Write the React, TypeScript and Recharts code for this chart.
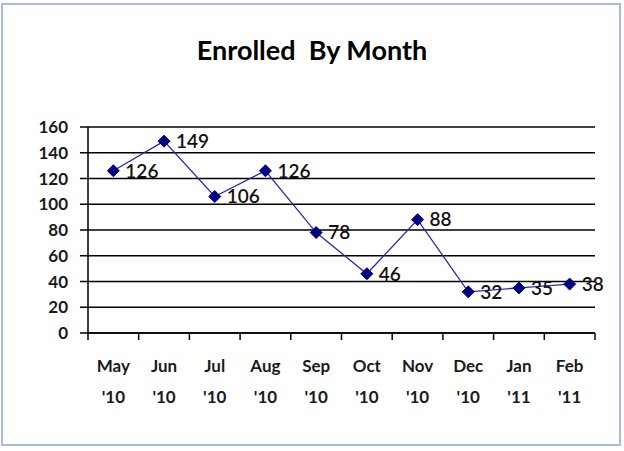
import React from "react";
import { LineChart, Line, XAxis, YAxis, CartesianGrid, LabelList } from "recharts";

const months = ["May", "Jun", "Jul", "Aug", "Sep", "Oct", "Nov", "Dec", "Jan", "Feb"];
const years = ["'10", "'10", "'10", "'10", "'10", "'10", "'10", "'10", "'11", "'11"];
const enrolled = [126, 149, 106, 126, 78, 46, 88, 32, 35, 38];
const yTicks = [0, 20, 40, 60, 80, 100, 120, 140, 160];

const data = months.map((m, i) => ({ key: `${m} ${years[i]}`, month: m, year: years[i], value: enrolled[i] }));

const W = 624;
const H = 451;
const LEFT = 88;
const RIGHT = 29;
const TOP = 127;
const XH = 118;
const FONT = "Lato, 'Open Sans', sans-serif";
const BAND = (W - LEFT - RIGHT) / months.length;

const XTick = (props: any) => {
  const { x, y, index } = props;
  const d = data[index] ?? data[0];
  const half = BAND / 2;
  return (
    <g>
      <line x1={x - half} x2={x - half} y1={y - 8} y2={y - 1} stroke="#000" strokeWidth={1.5} />
      {index === months.length - 1 && (
        <line x1={x + half} x2={x + half} y1={y - 8} y2={y - 1} stroke="#000" strokeWidth={1.5} />
      )}
      <text x={x} y={y + 31} textAnchor="middle" fontFamily={FONT} fontWeight="bold" fontSize={17} fill="#1a1a1a">
        {d.month}
      </text>
      <text x={x} y={y + 62} textAnchor="middle" fontFamily={FONT} fontWeight="bold" fontSize={17} fill="#1a1a1a">
        {d.year}
      </text>
    </g>
  );
};

const Diamond = (props: any) => {
  const { cx, cy } = props;
  if (cx == null || cy == null) return null;
  const r = 6;
  return <path d={`M${cx},${cy - r}L${cx + r},${cy}L${cx},${cy + r}L${cx - r},${cy}Z`} fill="#000080" stroke="#000080" />;
};

export default function App() {
  return (
    <div style={{ position: "absolute", left: 0, top: 0, width: W, height: H, background: "#fff" }}>
      <div
        style={{
          position: "absolute",
          left: 1,
          top: 3,
          width: W - 4,
          height: H - 8,
          border: "2px solid #a8bcd6",
          boxSizing: "border-box",
        }}
      />
      <div
        style={{
          position: "absolute",
          left: 0,
          top: 33,
          width: W,
          textAlign: "center",
          fontFamily: FONT,
          fontWeight: "bold",
          fontSize: 27,
          color: "#000",
          whiteSpace: "pre",
        }}
      >
        {"Enrolled  By Month"}
      </div>
      <div style={{ position: "absolute", left: 0, top: 0 }}>
        <LineChart width={W} height={H} data={data} margin={{ top: TOP, right: RIGHT, bottom: 0, left: 0 }}>
          <CartesianGrid vertical={false} stroke="#000" strokeWidth={1.5} />
          <XAxis
            dataKey="key"
            height={XH}
            interval={0}
            padding={{ left: BAND / 2, right: BAND / 2 }}
            tickLine={false}
            axisLine={{ stroke: "#000", strokeWidth: 1.5 }}
            tick={<XTick />}
          />
          <YAxis
            width={LEFT}
            domain={[0, 160]}
            ticks={yTicks}
            interval={0}
            axisLine={{ stroke: "#000", strokeWidth: 1.5 }}
            tickLine={{ stroke: "#000", strokeWidth: 1.5 }}
            tickSize={8}
            tickMargin={12}
            tick={{ fontFamily: FONT, fontWeight: "bold", fontSize: 17, fill: "#1a1a1a" }}
          />
          <Line
            type="linear"
            dataKey="value"
            stroke="#2b2ba8"
            strokeWidth={1.3}
            dot={<Diamond />}
            activeDot={false}
            isAnimationActive={false}
          >
            <LabelList
              dataKey="value"
              position="right"
              offset={12}
              style={{ fontFamily: FONT, fontSize: 19, fill: "#111", fontWeight: 600 }}
            />
          </Line>
        </LineChart>
      </div>
    </div>
  );
}
